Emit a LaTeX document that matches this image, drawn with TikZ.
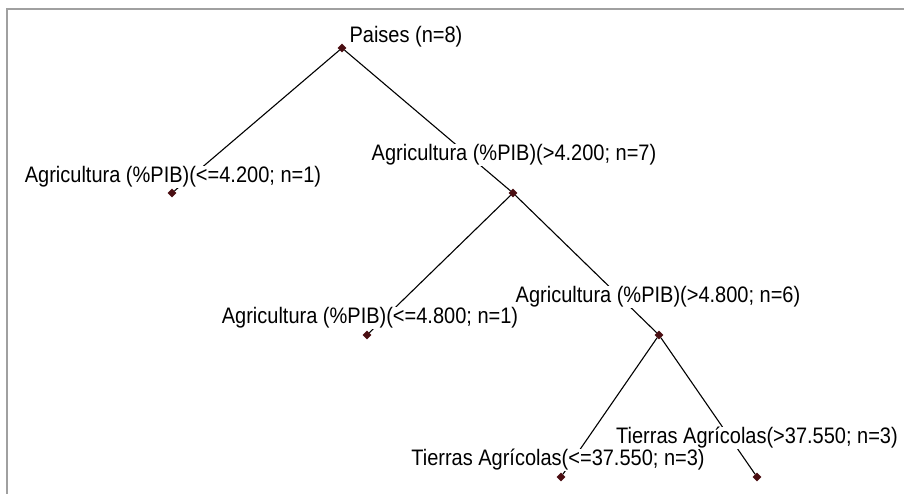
\documentclass[tikz,border=0pt]{standalone}
\usepackage{fontspec}
\setmainfont{Liberation Sans}
\usetikzlibrary{shapes.geometric}
\definecolor{dotred}{HTML}{4A0E12}
\definecolor{framegray}{HTML}{A0A0A0}
\newcommand{\tallt}[1]{\scalebox{1}[1.12]{#1}}
\begin{document}
\begin{tikzpicture}[x=1pt,y=-1pt,
  dotnode/.style={diamond, fill=dotred, inner sep=0pt, minimum size=9pt},
  lbl/.style={fill=white, inner sep=0.5pt, font=\fontsize{20}{24}\selectfont},
  edge/.style={draw=black, line width=1.1pt}]
\path[use as bounding box] (0,0) rectangle (904,494);
\fill[white] (0,0) rectangle (904,494);
\draw[framegray, line width=1.5pt] (7,494) -- (7,9) -- (904,9);
% dots
\node[dotnode] (r) at (342,48) {};
\node[dotnode] (a) at (172,193) {};
\node[dotnode] (b) at (513,193) {};
\node[dotnode] (c) at (367,335) {};
\node[dotnode] (d) at (659,335) {};
\node[dotnode] (e) at (561,477) {};
\node[dotnode] (f) at (757,477) {};
% edges
\draw[edge] (r) -- (a);
\draw[edge] (r) -- (b);
\draw[edge] (b) -- (c);
\draw[edge] (b) -- (d);
\draw[edge] (d) -- (e);
\draw[edge] (d) -- (f);
% labels
\node[lbl] (lr) at (406,37) {\tallt{Paises (n=8)}};
\node[lbl] (la) at (173,177) {\tallt{Agricultura (\%PIB)(<=4.200; n=1)}};
\node[lbl] (lb) at (514,155) {\tallt{Agricultura (\%PIB)(>4.200; n=7)}};
\node[lbl] (lc) at (370,318) {\tallt{Agricultura (\%PIB)(<=4.800; n=1)}};
\node[lbl] (ld) at (658,297) {\tallt{Agricultura (\%PIB)(>4.800; n=6)}};
\node[lbl] (le) at (558,460) {\tallt{Tierras Agrícolas(<=37.550; n=3)}};
\node[lbl] (lf) at (757,438) {\tallt{Tierras Agrícolas(>37.550; n=3)}};
\end{tikzpicture}
\end{document}
